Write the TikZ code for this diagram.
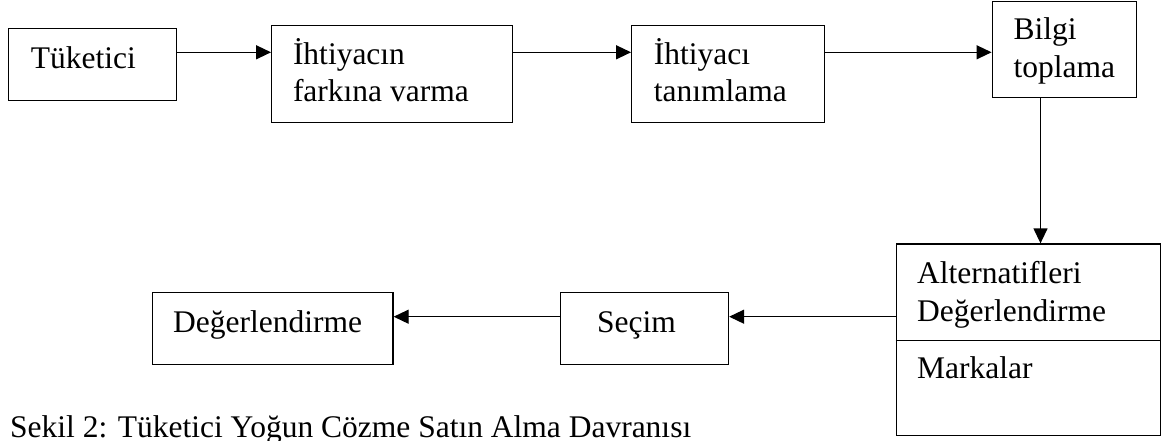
\documentclass[tikz,border=0pt]{standalone}
\usepackage{fontspec}
\setmainfont{Liberation Serif}
\usetikzlibrary{arrows.meta}
\begin{document}
\begin{tikzpicture}[x=1pt,y=-1pt,
  box/.style={draw, line width=1.3pt, rectangle, inner sep=0pt},
  txt/.style={inner sep=0pt, anchor=base west, font=\fontsize{31.5}{36}\selectfont},
  arr/.style={line width=1.3pt, -{Triangle[length=15pt,width=14pt]}}]
\useasboundingbox[fill=white] (0,0) rectangle (1172,441);

% process boxes
\node[box, minimum width=168.4pt, minimum height=72.4pt] (tuk)   at (92.6,64.5)   {};
\node[box, minimum width=241.1pt, minimum height=97pt]   (fark)  at (392.25,73.8) {};
\node[box, minimum width=192.9pt, minimum height=97pt]   (tanim) at (728.15,73.8) {};
\node[box, minimum width=144.6pt, minimum height=96pt]   (bilgi) at (1064.5,49.7) {};
\node[box, minimum width=263.9pt, minimum height=191.3pt] (alt)  at (1028.25,339.65) {};
\node[box, minimum width=167.8pt, minimum height=71.8pt] (secim) at (644.6,328.6) {};
\node[box, minimum width=240.7pt, minimum height=71.8pt] (deger) at (272.65,328.6) {};

% helper positions for the connector rows and the divider
\coordinate (row1) at (0,52.3);
\coordinate (row2) at (0,316.7);
\coordinate (col)  at (1040.5,0);
\coordinate (div)  at (0,340.7);

% divider inside the evaluation box
\draw[line width=1.3pt] (alt.west |- div) -- (alt.east |- div);

% box texts
\node[txt] (tuk-a)   at (30.6,68.3)   {Tüketici};
\node[txt] (fark-a)  at (292.8,65)    {İhtiyacın};
\node[txt] (fark-b)  at (292.8,101.7) {farkına varma};
\node[txt] (tanim-a) at (653.6,65)    {İhtiyacı};
\node[txt] (tanim-b) at (653.6,101.7) {tanımlama};
\node[txt] (bilgi-a) at (1013.4,40)   {Bilgi};
\node[txt] (bilgi-b) at (1013.4,77.5) {toplama};
\node[txt] (alt-a)   at (917,283.3)   {Alternatifleri};
\node[txt] (alt-b)   at (917,321.7)   {Değerlendirme};
\node[txt] (alt-c)   at (917,378.3)   {Markalar};
\node[txt] (secim-a) at (597,332.5)   {Seçim};
\node[txt] (deger-a) at (173,332)     {Değerlendirme};

% caption
\node[txt] (caption) at (10,437) {Sekil 2: Tüketici Yoğun Cözme Satın Alma Davranısı};

% connectors
\draw[arr] (tuk.east |- row1)   -- (fark.west |- row1);
\draw[arr] (fark.east |- row1)  -- (tanim.west |- row1);
\draw[arr] (tanim.east |- row1) -- (bilgi.west |- row1);
\draw[arr] (bilgi.south -| col) -- (alt.north -| col);
\draw[arr] (alt.west |- row2)   -- (secim.east |- row2);
\draw[arr] (secim.west |- row2) -- (deger.east |- row2);
\end{tikzpicture}
\end{document}
